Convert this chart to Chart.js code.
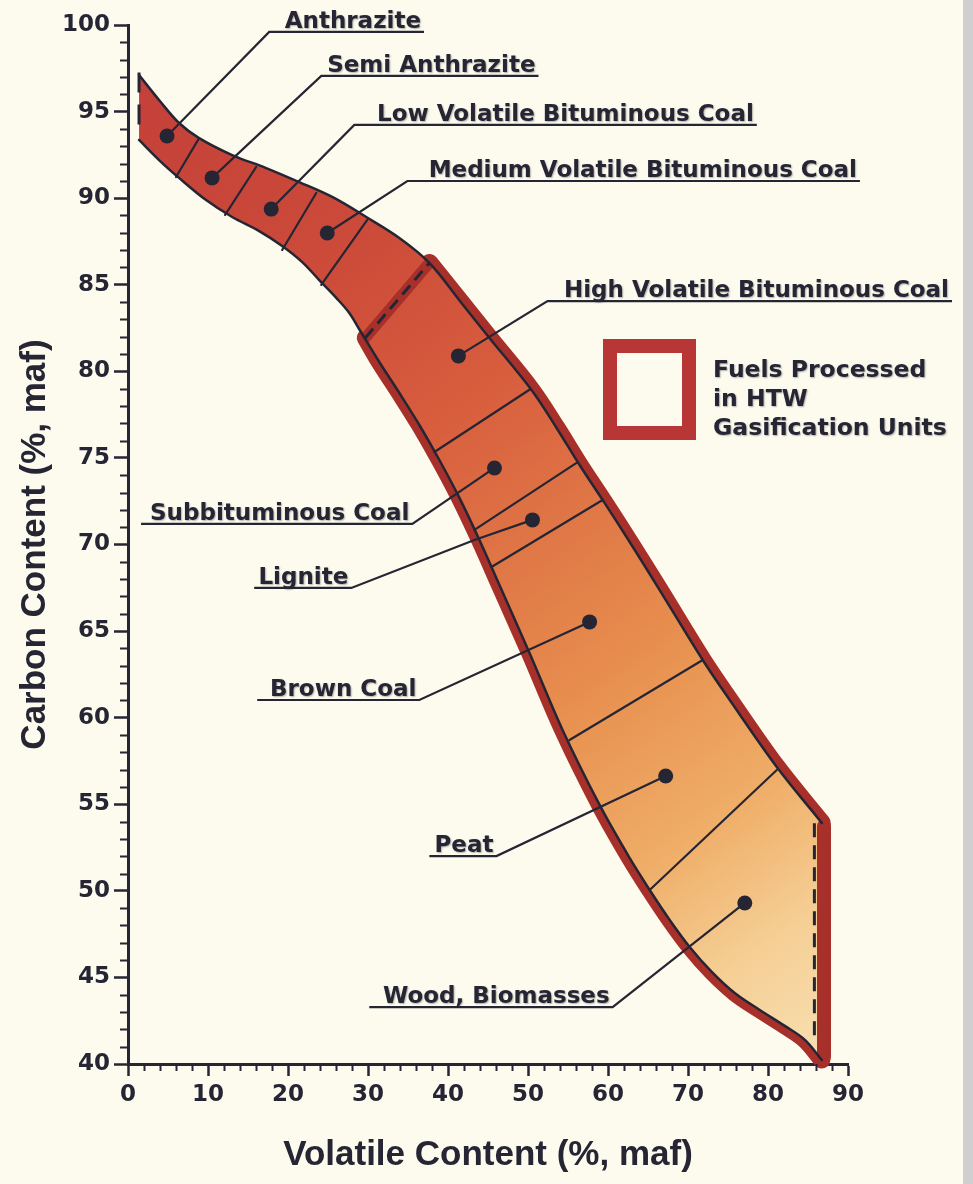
<!DOCTYPE html>
<html>
<head>
<meta charset="utf-8">
<title>Coal rank band</title>
<script src="https://cdn.jsdelivr.net/npm/chart.js@4.4.1/dist/chart.umd.min.js"></script>
<style>
html, body { margin: 0; padding: 0; }
body {
        width: 973px; height: 1184px; overflow: hidden;
        background: linear-gradient(to right, #fdfbee 0, #fdfbee 963px, #cfcfcf 963px);
}
#coal { position: absolute; left: 0; top: 0; }
</style>
</head>
<body>
<canvas id="coal" width="973" height="1184"></canvas>
<script>

// band outline (volatile %, carbon %)
var upperVol  = [1.38, 3.88, 6.38, 8.89, 13.02, 17.27, 21.40, 25.53, 29.79, 33.92, 37.67, 41.68, 45.18, 50.44, 53.57, 56.45, 59.57, 62.95, 66.46, 71.84, 75.22, 81.10, 86.73];
var upperCarb = [97.11, 95.67, 94.34, 93.47, 92.49, 91.74, 90.93, 90.07, 88.91, 87.70, 86.26, 83.95, 81.93, 78.92, 76.73, 74.59, 72.40, 69.97, 67.37, 63.33, 61.02, 57.15, 53.92];

var lowerVol  = [1.38, 3.88, 6.38, 9.76, 13.02, 16.40, 19.27, 21.78, 23.90, 26.03, 27.66, 29.04, 31.41, 33.92, 36.42, 38.92, 41.43, 43.93, 46.43, 50.19, 54.32, 58.95, 62.70, 65.21, 67.71, 70.21, 72.97, 75.84, 78.97, 82.10, 84.61, 86.73];
var lowerCarb = [93.36, 92.20, 91.17, 89.89, 88.91, 88.10, 87.24, 86.31, 85.27, 84.24, 83.37, 82.33, 80.54, 78.75, 76.90, 74.88, 72.69, 70.26, 67.66, 63.74, 59.29, 54.96, 51.90, 50.05, 48.32, 46.76, 45.32, 44.10, 43.12, 42.20, 41.39, 40.23];

// edges of the HTW region and the dashed ends of the band
var htwTopVol   = [29.66, 37.67];
var htwTopCarb  = [81.93, 86.26];
var htwSideVol  = [87.0, 87.0];
var htwSideCarb = [53.75, 40.4];
var dashSideVol  = [85.8, 85.8];
var dashSideCarb = [53.9, 41.2];
var leftEdgeVol  = [1.38, 1.38];
var leftEdgeCarb = [97.25, 93.9];

// rank boundaries across the band: [volLow, carbLow, volHigh, carbHigh]
var dividers = [
        [6.00, 91.22, 8.89, 93.47],
        [12.14, 89.03, 16.02, 91.80],
        [19.27, 87.01, 23.53, 90.30],
        [24.15, 84.99, 29.91, 88.74],
        [38.30, 75.34, 50.32, 78.98],
        [43.30, 70.84, 56.07, 74.71],
        [45.43, 68.70, 59.32, 72.57],
        [55.19, 58.71, 71.84, 63.33],
        [65.21, 50.05, 81.10, 56.98]
];

// fuels, their marker and their label line
var fuelNames = ["Anthrazite", "Semi Anthrazite", "Low Volatile Bituminous Coal", "Medium Volatile Bituminous Coal",
                 "High Volatile Bituminous Coal", "Subbituminous Coal", "Lignite", "Brown Coal", "Peat", "Wood, Biomasses"];
var dotVol  = [4.88, 10.51, 17.90, 24.91, 41.30, 45.81, 50.56, 57.70, 67.21, 77.10];
var dotCarb = [93.59, 91.17, 89.37, 87.99, 80.89, 74.42, 71.42, 65.53, 56.63, 49.30];
var lineFrom = [17.65, 24.16, 28.29, 34.92, 52.44, 1.63, 15.77, 16.15, 37.67, 30.16];
var lineTo   = [37.00, 51.31, 78.60, 91.49, 103.0, 35.54, 27.91, 36.42, 46.06, 60.58];
var lineCarb = [99.60, 97.06, 94.23, 90.99, 84.06, 71.19, 67.49, 61.02, 52.01, 43.29];
var leaderOnLeft = [true, true, true, true, true, false, false, false, false, false];
var leaderBend = [null, null, null, null, null, null, [43.30, 70.26], null, null, null];

var xTicks = [0, 10, 20, 30, 40, 50, 60, 70, 80, 90];
var yTicks = [40, 45, 50, 55, 60, 65, 70, 75, 80, 85, 90, 95, 100];

var legendLines = ["Fuels Processed", "in HTW", "Gasification Units"];

var INK = "#252534";
var HTW_RED = "#a8302a";
var FONT = "'DejaVu Sans', Verdana, sans-serif";
var TITLE_FONT = "'Liberation Sans', Arial, sans-serif";

function pts(xs, ys)
{
        var out = [];
        for (var i = 0; i < xs.length; i++) {
                out.push({x: xs[i], y: ys[i]});
        }
        return out;
}

var upperPts = pts(upperVol, upperCarb);
var lowerPts = pts(lowerVol, lowerCarb);

var bandPts = upperPts.concat(lowerPts.slice().reverse());

// red HTW rim along both sides of the band
var htwUpperPts = upperPts.filter(function(p) { return p.x >= htwTopVol[1]; });
var htwLowerPts = [{x: htwTopVol[0], y: htwTopCarb[0]}].concat(
        lowerPts.filter(function(p) { return p.x > htwTopVol[0]; }));

function bandGradient(context)
{
        var chart = context.chart;
        if (!chart.chartArea) return "#d9603f";
        var xs = chart.scales.x, ys = chart.scales.y;
        var g = chart.ctx.createLinearGradient(xs.getPixelForValue(1.4), ys.getPixelForValue(97),
                                               xs.getPixelForValue(86.7), ys.getPixelForValue(40));
        g.addColorStop(0.00, "#c4403a");
        g.addColorStop(0.22, "#cc4b39");
        g.addColorStop(0.38, "#d85e3e");
        g.addColorStop(0.63, "#e78e4e");
        g.addColorStop(0.78, "#efad67");
        g.addColorStop(0.89, "#f5ce94");
        g.addColorStop(1.00, "#f8e0b2");
        return g;
}

function lineSet(data, color, width, order, dash, tension)
{
        return {
                type: "line", data: data, showLine: true, fill: false,
                borderColor: color, borderWidth: width, borderDash: dash || [],
                borderCapStyle: "round", borderJoinStyle: "round",
                pointRadius: 0, tension: tension || 0, clip: false, order: order
        };
}

var datasets = [];

datasets.push(lineSet(htwUpperPts, HTW_RED, 18, 10, null, 0.35));
datasets.push(lineSet(htwLowerPts, HTW_RED, 17, 10, null, 0.35));

var band = lineSet(bandPts, "rgba(0,0,0,0)", 0, 9);
band.fill = "shape";
band.backgroundColor = bandGradient;
datasets.push(band);

datasets.push(lineSet(pts(htwSideVol, htwSideCarb), HTW_RED, 14, 8));
datasets.push(lineSet(pts(htwTopVol, htwTopCarb), HTW_RED, 11, 8));

datasets.push(lineSet(upperPts, INK, 2.5, 7, null, 0.35));
datasets.push(lineSet(lowerPts, INK, 2.5, 7, null, 0.35));

var leftDash = lineSet(pts(leftEdgeVol, leftEdgeCarb), INK, 3, 7, [20, 12]);
leftDash.borderCapStyle = "butt";
datasets.push(leftDash);

dividers.forEach(function(d) {
        datasets.push(lineSet([{x: d[0], y: d[1]}, {x: d[2], y: d[3]}], INK, 2.2, 6));
});

var topDash = lineSet(pts(htwTopVol, htwTopCarb), INK, 3, 5, [12, 7]);
var sideDash = lineSet(pts(dashSideVol, dashSideCarb), INK, 3, 5, [14, 8]);
topDash.borderCapStyle = "butt";
sideDash.borderCapStyle = "butt";
datasets.push(topDash);
datasets.push(sideDash);

// leader lines with their underline
for (var i = 0; i < fuelNames.length; i++) {
        var path = [{x: dotVol[i], y: dotCarb[i]}];
        if (leaderBend[i]) path.push({x: leaderBend[i][0], y: leaderBend[i][1]});
        if (leaderOnLeft[i]) {
                path.push({x: lineFrom[i], y: lineCarb[i]});
                path.push({x: lineTo[i], y: lineCarb[i]});
        } else {
                path.push({x: lineTo[i], y: lineCarb[i]});
                path.push({x: lineFrom[i], y: lineCarb[i]});
        }
        var ls = lineSet(path, INK, 2.2, 4);
        ls.borderJoinStyle = "miter";
        ls.borderCapStyle = "butt";
        datasets.push(ls);
}

datasets.push({
        type: "scatter", data: pts(dotVol, dotCarb), order: 1, clip: false,
        pointRadius: 7.5, pointBackgroundColor: INK, pointBorderWidth: 0, showLine: false
});

function inkText(ctx, str, x, y, align, size)
{
        ctx.save();
        ctx.font = "bold " + size + "px " + FONT;
        ctx.fillStyle = INK;
        ctx.textAlign = align;
        ctx.textBaseline = "alphabetic";
        ctx.shadowColor = "rgba(40,40,50,0.35)";
        ctx.shadowOffsetX = 1;
        ctx.shadowOffsetY = 1;
        ctx.shadowBlur = 1.5;
        ctx.fillText(str, x, y);
        ctx.restore();
}

var decorations = {
        id: "decorations",
        afterDraw: function(chart) {
                var ctx = chart.ctx;
                var xs = chart.scales.x, ys = chart.scales.y;
                var area = chart.chartArea;

                // minor ticks
                ctx.save();
                ctx.strokeStyle = INK;
                ctx.lineWidth = 2;
                for (var v = 41; v < 100; v++) {
                        if (v % 5 === 0) continue;
                        var py = Math.round(ys.getPixelForValue(v)) + 0.5;
                        ctx.beginPath();
                        ctx.moveTo(area.left - 8, py);
                        ctx.lineTo(area.left, py);
                        ctx.stroke();
                }
                for (var u = 2; u < 90; u += 2) {
                        if (u % 10 === 0) continue;
                        var px = Math.round(xs.getPixelForValue(u)) + 0.5;
                        ctx.beginPath();
                        ctx.moveTo(px, area.bottom);
                        ctx.lineTo(px, area.bottom + 7);
                        ctx.stroke();
                }
                ctx.restore();

                // fuel labels, sitting on their underline
                for (var i = 0; i < fuelNames.length; i++) {
                        inkText(ctx, fuelNames[i], xs.getPixelForValue(lineTo[i]) - 3,
                                ys.getPixelForValue(lineCarb[i]) - 4, "right", 23);
                }

                // legend box
                var bx = area.left + 475, by = area.top + 314;
                ctx.save();
                ctx.fillStyle = "#fdfbee";
                ctx.fillRect(bx, by, 93, 101);
                ctx.strokeStyle = "#b83636";
                ctx.lineWidth = 14;
                ctx.strokeRect(bx + 7, by + 7, 93 - 14, 101 - 14);
                ctx.restore();
                for (var k = 0; k < legendLines.length; k++) {
                        inkText(ctx, legendLines[k], bx + 110, by + 38 + k * 29, "left", 23.5);
                }
        }
};

var CoalChart = new Chart(document.getElementById("coal"), {
        type: "scatter",
        data: { datasets: datasets },
        plugins: [decorations],
        options: {
                responsive: false,
                animation: false,
                events: [],
                layout: { padding: { top: 25, right: 125, left: 0, bottom: 0 } },
                plugins: {
                        legend: { display: false },
                        tooltip: { enabled: false }
                },
                scales: {
                        x: {
                                type: "linear", min: 0, max: 90,
                                afterFit: function(scale) { scale.height = 120; },
                                afterBuildTicks: function(scale) {
                                        scale.ticks = xTicks.map(function(v) { return {value: v}; });
                                },
                                grid: { drawOnChartArea: false, tickLength: 12, tickWidth: 2.5, tickColor: INK },
                                border: { display: true, color: INK, width: 3 },
                                ticks: {
                                        color: INK, padding: 5, maxRotation: 0, autoSkip: false,
                                        font: { family: FONT, size: 23, weight: "bold" }
                                },
                                title: {
                                        display: true, text: "Volatile Content (%, maf)", color: INK,
                                        font: { family: TITLE_FONT, size: 35, weight: "bold" },
                                        padding: { top: 0, bottom: 8 }
                                }
                        },
                        y: {
                                type: "linear", min: 40, max: 100,
                                afterFit: function(scale) { scale.width = 128; },
                                afterBuildTicks: function(scale) {
                                        scale.ticks = yTicks.map(function(v) { return {value: v}; });
                                },
                                grid: { drawOnChartArea: false, tickLength: 14, tickWidth: 2.5, tickColor: INK },
                                border: { display: true, color: INK, width: 3 },
                                ticks: {
                                        color: INK, padding: 4, autoSkip: false,
                                        font: { family: FONT, size: 23, weight: "bold" }
                                },
                                title: {
                                        display: true, text: "Carbon Content (%, maf)", color: INK,
                                        font: { family: TITLE_FONT, size: 35, weight: "bold" },
                                        padding: { top: 14, bottom: 0 }
                                }
                        }
                }
        }
});

</script>
</body>
</html>
